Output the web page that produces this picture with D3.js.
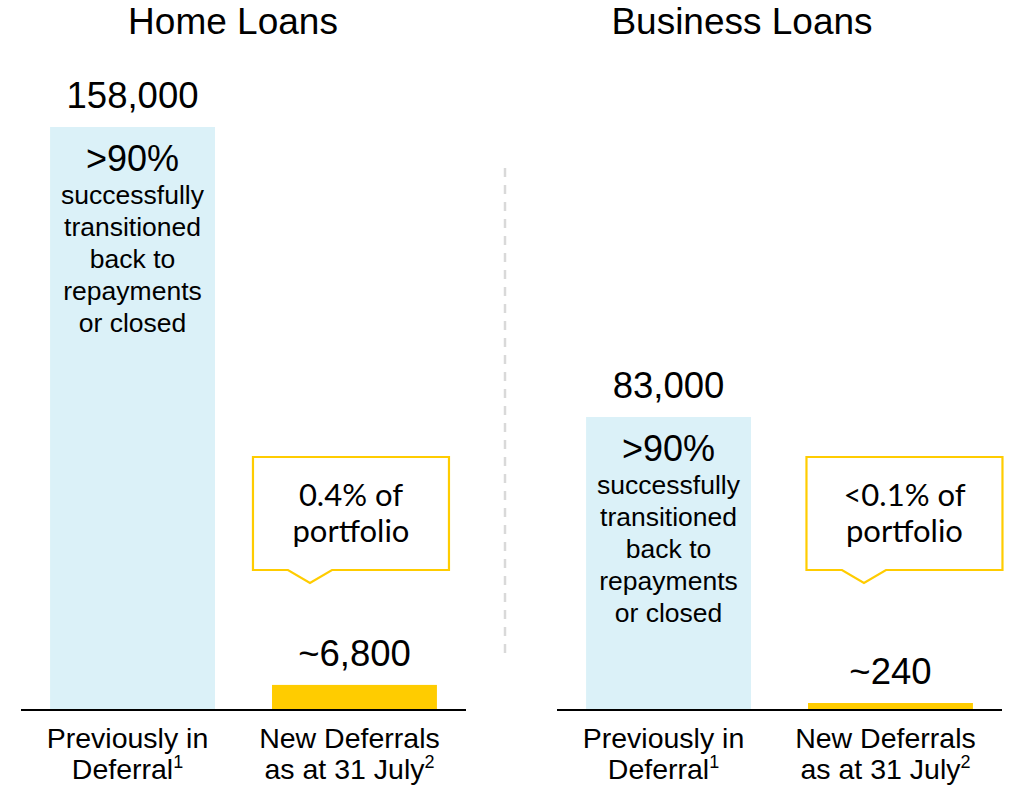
<!DOCTYPE html>
<html lang="en">
<head>
  <meta charset="UTF-8">
  <title>Home and Business Loan Deferrals</title>
  <script src="https://d3js.org/d3.v7.min.js"></script>
  <style>
    body { margin: 0; background: #fff; }
    svg { display: block; font-family: "Liberation Sans", Arial, sans-serif; }
  </style>
</head>
<body>
<svg id="chart" width="1012" height="789"></svg>
<script>
  // Chart data
  const panelTitles = ["Home Loans", "Business Loans"];
  const categories = ["Previously in Deferral", "New Deferrals as at 31 July"];
  const categoryLines = [["Previously in", "Deferral", "1"], ["New Deferrals", "as at 31 July", "2"]];
  const homeValues = [158000, 6800];
  const businessValues = [83000, 240];
  const homeLabels = ["158,000", "~6,800"];
  const businessLabels = ["83,000", "~240"];
  const transitionedShare = [">90%", ">90%"];
  const transitionedText = ["successfully", "transitioned", "back to", "repayments", "or closed"];
  const portfolioShare = ["0.4% of", "<0.1% of"];

  const barColors = ["#dbf1f8", "#ffcc00"];
  const svg = d3.select("#chart");
  const baseline = 710;

  // per-panel layout
  const panels = [
    { title: panelTitles[0], values: homeValues, labels: homeLabels, share: transitionedShare[0],
      callout: portfolioShare[0], x0: 21, x1: 466, top: 127, titleX: 233, boxShift: -3.5, tipShift: -44.5 },
    { title: panelTitles[1], values: businessValues, labels: businessLabels, share: transitionedShare[1],
      callout: portfolioShare[1], x0: 557, x1: 1002, top: 417, titleX: 742, boxShift: 14, tipShift: -26.5 }
  ];

  panels.forEach(p => {
    const g = svg.append("g");

    const x = d3.scaleBand()
      .domain(categories)
      .range([p.x0, p.x1])
      .paddingInner(0.257)
      .paddingOuter(0.131);

    const y = d3.scaleLinear()
      .domain([0, p.values[0]])
      .range([baseline, p.top]);

    const rows = categories.map((c, i) => ({ cat: c, value: p.values[i], label: p.labels[i], i }));
    // tiny values still get a visible sliver
    const barTop = d => Math.min(y(d.value), baseline - 7);

    // title
    g.append("text")
      .attr("x", p.titleX)
      .attr("y", 34)
      .attr("text-anchor", "middle")
      .attr("font-size", 37)
      .attr("fill", "#000")
      .text(p.title);

    // bars
    g.selectAll("rect.bar")
      .data(rows)
      .enter()
      .append("rect")
      .attr("class", "bar")
      .attr("x", d => x(d.cat))
      .attr("y", barTop)
      .attr("width", x.bandwidth())
      .attr("height", d => baseline - barTop(d))
      .attr("fill", d => barColors[d.i]);

    // value labels
    g.selectAll("text.value")
      .data(rows)
      .enter()
      .append("text")
      .attr("class", "value")
      .attr("x", d => x(d.cat) + x.bandwidth() / 2)
      .attr("y", d => barTop(d) - 19)
      .attr("text-anchor", "middle")
      .attr("font-size", 36.5)
      .text(d => d.label);

    // text inside the big bar
    const cx0 = x(categories[0]) + x.bandwidth() / 2;
    const t0 = y(p.values[0]);
    g.append("text")
      .attr("x", cx0)
      .attr("y", t0 + 44)
      .attr("text-anchor", "middle")
      .attr("font-size", 36)
      .text(p.share);
    g.selectAll("text.inner")
      .data(transitionedText)
      .enter()
      .append("text")
      .attr("class", "inner")
      .attr("x", cx0)
      .attr("y", (d, i) => t0 + 77 + i * 32)
      .attr("text-anchor", "middle")
      .attr("font-size", 26.5)
      .text(d => d);

    // callout box above the small bar
    const cx1 = x(categories[1]) + x.bandwidth() / 2;
    const bw = 196, bTop = 457, bBot = 570, tipY = 583;
    const bl = cx1 + p.boxShift - bw / 2, br = bl + bw;
    const tx = cx1 + p.tipShift;
    const path = d3.path();
    path.moveTo(bl, bTop);
    path.lineTo(br, bTop);
    path.lineTo(br, bBot);
    path.lineTo(tx + 22, bBot);
    path.lineTo(tx, tipY);
    path.lineTo(tx - 22, bBot);
    path.lineTo(bl, bBot);
    path.closePath();
    g.append("path")
      .attr("d", path.toString())
      .attr("fill", "#fff")
      .attr("stroke", "#ffcc00")
      .attr("stroke-width", 2.2);
    g.selectAll("text.callout")
      .data([p.callout, "portfolio"])
      .enter()
      .append("text")
      .attr("class", "callout")
      .attr("x", (bl + br) / 2)
      .attr("y", (d, i) => 506 + i * 36)
      .attr("text-anchor", "middle")
      .attr("font-family", "Lato, 'Open Sans', sans-serif")
      .attr("font-size", 31)
      .text(d => d);

    // baseline axis (no ticks)
    g.append("g")
      .attr("transform", `translate(0,${baseline})`)
      .call(d3.axisBottom(x).tickSize(0).tickFormat(""))
      .call(a => a.select(".domain")
        .attr("d", `M${p.x0},0H${p.x1}`)
        .attr("stroke", "#000")
        .attr("stroke-width", 2));

    // category labels
    categoryLines.forEach((lines, i) => {
      const cx = x(categories[i]) + x.bandwidth() / 2 - 5;
      g.append("text")
        .attr("x", cx)
        .attr("y", 748)
        .attr("text-anchor", "middle")
        .attr("font-size", 28.5)
        .text(lines[0]);
      const t = g.append("text")
        .attr("x", cx)
        .attr("y", 779)
        .attr("text-anchor", "middle")
        .attr("font-size", 28.5);
      t.append("tspan").text(lines[1]);
      t.append("tspan")
        .attr("font-size", 18)
        .attr("dy", -11)
        .text(lines[2]);
    });
  });

  // divider between panels
  svg.append("line")
    .attr("x1", 505).attr("x2", 505)
    .attr("y1", 168).attr("y2", 656)
    .attr("stroke", "#d9d9d9")
    .attr("stroke-width", 2.5)
    .attr("stroke-dasharray", "9 8");
</script>
</body>
</html>
